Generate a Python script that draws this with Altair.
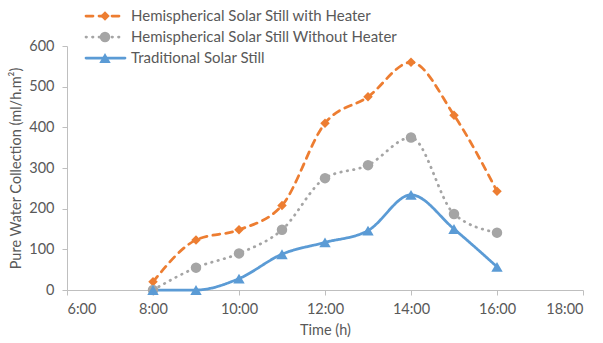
import altair as alt
import pandas as pd

# Hourly readings (hour of day) and water collection rates in ml/h.m2
hours = [8, 9, 10, 11, 12, 13, 14, 15, 16]
with_heater = [20, 123, 148, 208, 410, 475, 560, 430, 243]
without_heater = [0, 55, 90, 148, 275, 307, 375, 187, 141]
traditional = [0, 0, 28, 88, 117, 146, 234, 150, 57]

series_names = [
    "Hemispherical Solar Still with Heater",
    "Hemispherical Solar Still Without Heater",
    "Traditional Solar Still",
]
series_colors = ["#ED7D31", "#A5A5A5", "#5B9BD5"]
series_dashes = [[7, 6], [0.5, 6], [1, 0]]
series_shapes = ["diamond", "circle", "triangle-up"]

rows = []
for name, vals in zip(series_names, [with_heater, without_heater, traditional]):
    for h, v in zip(hours, vals):
        rows.append({"hour": h, "value": v, "series": name})
df = pd.DataFrame(rows)
legend_df = pd.DataFrame({"series": series_names, "row": list(range(len(series_names)))})

FONT = "Lato"
TEXT = "#595959"
AXIS = "#BFBFBF"

color = alt.Color("series:N", scale=alt.Scale(domain=series_names, range=series_colors), legend=None)
dash = alt.StrokeDash("series:N", scale=alt.Scale(domain=series_names, range=series_dashes), legend=None)
shape = alt.Shape("series:N", scale=alt.Scale(domain=series_names, range=series_shapes), legend=None)
size = alt.Size("series:N", scale=alt.Scale(domain=series_names, range=[90, 130, 110]), legend=None)

x = alt.X(
    "hour:Q",
    scale=alt.Scale(domain=[6, 18], nice=False),
    axis=alt.Axis(
        values=[6, 8, 10, 12, 14, 16, 18],
        labelExpr="datum.value + ':00'",
        title="Time (h)",
        grid=False,
        domainColor=AXIS,
        tickColor=AXIS,
        tickSize=5,
        labelPadding=7,
        titlePadding=8,
    ),
)
y = alt.Y(
    "value:Q",
    scale=alt.Scale(domain=[0, 600], nice=False),
    axis=alt.Axis(
        values=[0, 100, 200, 300, 400, 500, 600],
        title="Pure Water Collection (ml/h.m²)",
        grid=False,
        domainColor=AXIS,
        tickColor=AXIS,
        tickSize=5,
        labelPadding=8,
        titlePadding=5,
    ),
)

base = alt.Chart(df)
lines = base.mark_line(strokeWidth=2.75, interpolate="monotone", strokeCap="round").encode(
    x=x, y=y, color=color, strokeDash=dash, detail="series:N"
)
points = base.mark_point(filled=True, opacity=1).encode(
    x=x, y=y, color=color, shape=shape, size=size
)
plot = alt.layer(lines, points)

# Custom legend rows placed above the top-left of the plot
ly = alt.Y("row:Q", scale=alt.Scale(domain=[0, 2], range=[-30, 12]), axis=None)
leg = alt.Chart(legend_df)
leg_lines = leg.mark_rule(strokeWidth=2.75, strokeCap="round").encode(
    x=alt.value(19), x2=alt.value(58), y=ly, color=color, strokeDash=dash
)
leg_points = leg.mark_point(filled=True, opacity=1).encode(
    x=alt.value(38), y=ly, color=color, shape=shape, size=size
)
leg_text = leg.mark_text(align="left", baseline="middle", fontSize=15, font=FONT, color=TEXT).encode(
    x=alt.value(64), y=ly, text="series:N"
)
legend = alt.layer(leg_lines, leg_points, leg_text)

chart = (
    alt.layer(plot, legend)
    .resolve_scale(y="independent")
    .properties(
        width=516,
        height=244,
        background="white",
        autosize=alt.AutoSizeParams(type="none"),
        padding={"left": 67, "top": 46, "right": 20, "bottom": 53},
    )
    .configure_view(stroke=None)
    .configure_axis(
        labelFont=FONT,
        titleFont=FONT,
        labelFontSize=14.5,
        titleFontSize=14.5,
        labelColor=TEXT,
        titleColor=TEXT,
        titleFontWeight="normal",
    )
)

chart.save("out.html", embed_options={"renderer": "svg", "actions": False})
